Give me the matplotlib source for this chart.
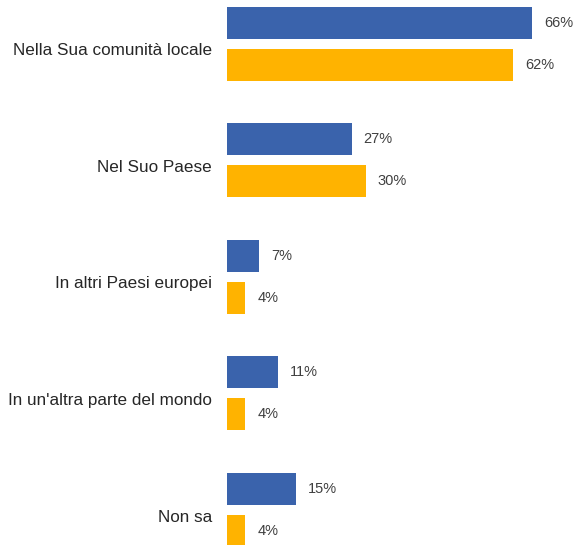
import matplotlib
matplotlib.use("Agg")
import matplotlib.pyplot as plt
from matplotlib import font_manager as fm

categories = ["Nella Sua comunità locale", "Nel Suo Paese", "In altri Paesi europei",
              "In un'altra parte del mondo", "Non sa"]
series_a = [66, 27, 7, 11, 15]
series_b = [62, 30, 4, 4, 4]

names = {f.name for f in fm.fontManager.ttflist}
fam = "Liberation Sans Narrow" if "Liberation Sans Narrow" in names else "Liberation Sans"
plt.rcParams['font.family'] = [fam, 'DejaVu Sans']

W, H = 574, 545
fig = plt.figure(figsize=(W/100, H/100), dpi=100)
left_px = 227
ax = fig.add_axes([left_px/W, 0, (W-left_px)/W, 1])
px_per_pct = 4.62
ax.set_xlim(0, (W-left_px)/px_per_pct)
spacing = 116.5
ax.set_ylim((H-44)/spacing, -44/spacing)

blue = "#3A63AC"
orange = "#FFB300"
off = 21/spacing
h = 32/spacing
ys = list(range(len(categories)))
ax.barh([y - off for y in ys], series_a, height=h, color=blue)
ax.barh([y + off for y in ys], series_b, height=h, color=orange)

gap = 12/px_per_pct
for y, a, b in zip(ys, series_a, series_b):
    ax.text(a + gap, y - off, f"{a}%", va="center", ha="left", fontsize=10.5, color="#404040")
    ax.text(b + gap, y + off, f"{b}%", va="center", ha="left", fontsize=10.5, color="#404040")

for y, c in zip(ys, categories):
    ax.text(-15/px_per_pct, y + 7/spacing, c, va="center", ha="right", fontsize=12.3,
            color="#262626", clip_on=False)

ax.set_xticks([])
ax.set_yticks([])
for s in ax.spines.values():
    s.set_visible(False)

fig.savefig("out.png", dpi=100)
